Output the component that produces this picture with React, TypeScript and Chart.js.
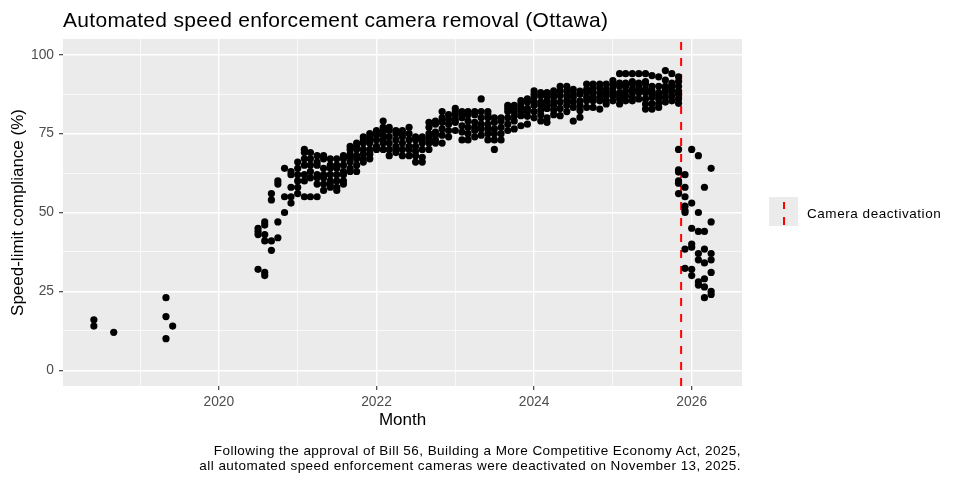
import { useEffect, useRef } from "react"
import Chart from "chart.js/auto"

// one entry per month (first day of month), several cameras each
const months = [
  "2018-06", "2018-09", "2019-05", "2019-06",
  "2020-07", "2020-08", "2020-09", "2020-10", "2020-11", "2020-12",
  "2021-01", "2021-02", "2021-03", "2021-04", "2021-05", "2021-06",
  "2021-07", "2021-08", "2021-09", "2021-10", "2021-11", "2021-12",
  "2022-01", "2022-02", "2022-03", "2022-04", "2022-05", "2022-06",
  "2022-07", "2022-08", "2022-09", "2022-10", "2022-11", "2022-12",
  "2023-01", "2023-02", "2023-03", "2023-04", "2023-05", "2023-06",
  "2023-07", "2023-08", "2023-09", "2023-10", "2023-11", "2023-12",
  "2024-01", "2024-02", "2024-03", "2024-04", "2024-05", "2024-06",
  "2024-07", "2024-08", "2024-09", "2024-10", "2024-11", "2024-12",
  "2025-01", "2025-02", "2025-03", "2025-04", "2025-05", "2025-06",
  "2025-07", "2025-08", "2025-09", "2025-10", "2025-11", "2025-12",
  "2026-01", "2026-02", "2026-03", "2026-04",
]

const compliance: number[][] = [
  [16, 14], [12], [23, 17, 10], [14],
  [45, 44, 43, 32], [47, 46, 43, 41, 31, 30], [56, 54, 41, 38], [60, 59, 47, 42], [64, 55, 50], [63, 62, 58, 55, 53],
  [66, 64, 62, 60, 58, 56], [70, 69, 67, 65, 62, 60, 55], [69, 67, 65, 63, 61, 55], [68, 66, 65, 62, 61, 59, 55],
  [68, 67, 64, 62, 61, 59, 57], [67, 65, 64, 62, 60, 59, 58],
  [67, 65, 64, 62, 60, 58, 57], [68, 67, 65, 63, 62, 60, 59], [71, 70, 68.5, 67.5, 66, 64, 63],
  [72, 71, 70, 68, 67, 65, 63], [74, 73, 72, 70, 68.5, 67, 66], [75, 74, 73, 72, 70, 68.5, 67],
  [76, 75, 74.5, 73, 71, 70], [79, 77, 76, 74.5, 73, 72, 70], [77, 76, 74, 72, 70, 68], [76, 75, 73, 71, 70, 69],
  [76, 75, 74, 72, 70, 68], [77, 75, 73, 71, 70, 68],
  [74, 73, 71, 69.5, 68, 66], [74, 73, 72, 70, 67.5, 66], [78.6, 77, 75, 73.5, 72, 70], [79, 78, 75.5, 74.5, 73, 72],
  [82, 80, 78.6, 76.5, 74.5, 72], [81, 79.5, 78, 76, 74],
  [83, 82, 81, 79.5, 78.6, 76], [82, 81, 80, 77.5, 75.5, 73], [82, 81, 79, 77, 75, 73], [82, 81, 78.6, 77, 76, 74],
  [86, 82, 80, 78, 76.5, 74.5], [82, 81, 80, 78, 76.5, 75, 73],
  [80, 78.6, 76.5, 75, 73, 70], [80, 79, 77, 75, 73], [84, 83, 82, 80, 78, 76], [84, 83, 82, 80.5, 79, 76.5],
  [85.5, 84.5, 83, 81.5, 80.7, 77.5], [86, 85, 83, 82, 80.5, 78],
  [88.6, 87.5, 86.5, 85, 84, 82, 80], [88, 87, 85, 84, 82.5, 81, 79], [88, 87, 85.5, 84, 83, 80, 78.6],
  [88.6, 87.5, 86.5, 85, 84, 82.5, 81], [90, 88.5, 87, 85, 83, 80.7], [90, 88.5, 87, 85.5, 84, 82],
  [89, 87.5, 86.5, 85, 83.3, 79], [88.5, 87.5, 85.4, 84, 82.3, 80.2], [90.7, 89, 88, 86.5, 85.4, 83.3],
  [90.7, 89.5, 88, 86.5, 85.4, 83.3], [90.7, 89.5, 88, 86.5, 85.4, 82.8], [90.7, 89, 88, 87, 85.5, 84.4],
  [91.8, 90.5, 89.5, 88, 87, 85.4], [94, 91, 90, 88, 87, 86, 84.4], [94, 91, 90, 88.5, 87, 85.4],
  [94, 91.5, 90.7, 89, 88, 86.5, 85.4], [94, 91, 90, 89, 88, 86], [94, 91.5, 90.7, 89, 88, 86, 84.4, 82.8],
  [93.4, 90, 88.6, 87.5, 86.5, 84.5, 82.8], [93, 90, 88, 87, 86, 84.5, 83.3], [95, 92, 90, 89, 88, 86.5, 85],
  [94, 91, 90, 88.6, 87, 85.4],
  [93, 91.5, 90, 88.5, 87.5, 86, 84.6, 70, 63.5, 62.8, 60, 59.3, 56], [62, 58, 55, 52, 50.6, 50, 38.4, 32.3],
  [70, 53, 45, 40, 39, 32, 30], [68, 50, 44, 37, 35, 28, 27], [58, 44, 38.4, 34, 29, 26.4, 23], [64, 47, 37, 35, 31, 25, 24],
]

const deactivationDate = "2025-11-13"

const xBreaks = [2019, 2020, 2021, 2022, 2023, 2024, 2025, 2026]
const xLabelled = [2020, 2022, 2024, 2026]
const yBreaks = [0, 12.5, 25, 37.5, 50, 62.5, 75, 87.5, 100]
const yLabelled = [0, 25, 50, 75, 100]
const yLimits = [0, 100]

const FONT = "'Liberation Sans', Arial, sans-serif"

function decimalYear(s: string) {
  const [y, m, d] = s.split("-").map(Number)
  const start = Date.UTC(y, 0, 1)
  const end = Date.UTC(y + 1, 0, 1)
  return y + (Date.UTC(y, m - 1, d || 1) - start) / (end - start)
}

const panelBg = {
  id: "panelBg",
  beforeDraw(chart: any) {
    const { ctx, chartArea: a } = chart
    ctx.save()
    ctx.fillStyle = "#EBEBEB"
    ctx.fillRect(a.left, a.top, a.right - a.left, a.bottom - a.top)
    ctx.restore()
  },
}

export default function App() {
  const canvasRef = useRef<HTMLCanvasElement | null>(null)

  useEffect(() => {
    if (!canvasRef.current) return

    const points = months.flatMap((m, i) =>
      compliance[i].map((v) => ({ x: decimalYear(m + "-01"), y: v }))
    )
    const xs = points.map((p) => p.x)
    const xLo = Math.min(...xs)
    const xHi = Math.max(...xs)
    const xPad = (xHi - xLo) * 0.05
    const yPad = (yLimits[1] - yLimits[0]) * 0.05
    const yMin = yLimits[0] - yPad
    const yMax = yLimits[1] + yPad
    const cut = decimalYear(deactivationDate)

    const gridWidth = (major: number[]) => (c: any) =>
      c.tick && major.includes(c.tick.value) ? 1.4 : 0.7
    const tickColor = (major: number[]) => (c: any) =>
      c.tick && major.includes(c.tick.value) ? "#333333" : "rgba(0,0,0,0)"

    const chart = new Chart(canvasRef.current, {
      type: "scatter",
      data: {
        datasets: [
          {
            data: points,
            backgroundColor: "#000000",
            borderWidth: 0,
            pointRadius: 3.6,
            pointHoverRadius: 3.6,
          },
          {
            data: [
              { x: cut, y: yMin },
              { x: cut, y: yMax },
            ],
            showLine: true,
            borderColor: "#FF0000",
            borderWidth: 2,
            borderDash: [8, 8],
            pointRadius: 0,
          } as any,
        ],
      },
      plugins: [panelBg],
      options: {
        animation: false,
        responsive: false,
        devicePixelRatio: 1,
        layout: { padding: { top: 39, right: 218, bottom: 49, left: 0 } },
        plugins: {
          legend: { display: false },
          tooltip: { enabled: false },
        },
        scales: {
          x: {
            type: "linear",
            min: xLo - xPad,
            max: xHi + xPad,
            afterBuildTicks: (s: any) => {
              s.ticks = xBreaks.map((v) => ({ value: v }))
            },
            afterFit: (s: any) => {
              s.height = 45
            },
            ticks: {
              autoSkip: false,
              maxRotation: 0,
              padding: 4,
              color: "#4D4D4D",
              font: { family: FONT, size: 13.8 },
              callback: (v: any) => (xLabelled.includes(v) ? String(v) : ""),
            },
            grid: {
              color: "#FFFFFF",
              lineWidth: gridWidth(xLabelled),
              tickLength: 4,
              tickColor: tickColor(xLabelled),
              tickWidth: 1.1,
            },
            border: { display: false },
            title: {
              display: true,
              text: "Month",
              color: "#000000",
              font: { family: FONT, size: 17 },
              padding: { top: 0, bottom: 0 },
            },
          },
          y: {
            type: "linear",
            min: yMin,
            max: yMax,
            afterBuildTicks: (s: any) => {
              s.ticks = yBreaks.map((v) => ({ value: v }))
            },
            afterFit: (s: any) => {
              s.width = 63
            },
            ticks: {
              autoSkip: false,
              padding: 5,
              color: "#4D4D4D",
              font: { family: FONT, size: 13.8 },
              callback: (v: any) => (yLabelled.includes(v) ? String(v) : ""),
            },
            grid: {
              color: "#FFFFFF",
              lineWidth: gridWidth(yLabelled),
              tickLength: 4,
              tickColor: tickColor(yLabelled),
              tickWidth: 1.1,
            },
            border: { display: false },
            title: {
              display: true,
              text: "Speed-limit compliance (%)",
              color: "#000000",
              font: { family: FONT, size: 17 },
              padding: { top: 8, bottom: 0 },
            },
          },
        },
      },
    })

    return () => {
      chart.destroy()
    }
  }, [])

  return (
    <>
      <style>{`body { margin: 0; }`}</style>
      <div style={{ position: "relative", width: 960, height: 480, background: "#fff", fontFamily: FONT }}>
        <canvas ref={canvasRef} width={960} height={480} style={{ display: "block" }} />
        <div
          style={{
            position: "absolute",
            left: 63,
            top: 9.5,
            fontSize: 21,
            lineHeight: "20px",
            letterSpacing: "0.3px",
            color: "#000",
            whiteSpace: "nowrap",
          }}
        >
          Automated speed enforcement camera removal (Ottawa)
        </div>
        <div
          style={{
            position: "absolute",
            left: 769,
            top: 197,
            width: 29,
            height: 29,
            background: "#EBEBEB",
          }}
        >
          <div
            style={{
              position: "absolute",
              left: 14,
              top: 5,
              width: 2,
              height: 24,
              background: "repeating-linear-gradient(to bottom, #FF0000 0px, #FF0000 7px, transparent 7px, transparent 15.5px)",
            }}
          />
        </div>
        <div
          style={{
            position: "absolute",
            left: 807,
            top: 206,
            fontSize: 13.5,
            lineHeight: "16px",
            letterSpacing: "0.55px",
            color: "#000",
            whiteSpace: "nowrap",
          }}
        >
          Camera deactivation
        </div>
        <div
          style={{
            position: "absolute",
            right: 219,
            top: 444,
            fontSize: 13.5,
            lineHeight: "14.5px",
            letterSpacing: "0.45px",
            color: "#000",
            textAlign: "right",
            whiteSpace: "nowrap",
          }}
        >
          Following the approval of Bill 56, Building a More Competitive Economy Act, 2025,
          <br />
          all automated speed enforcement cameras were deactivated on November 13, 2025.
        </div>
      </div>
    </>
  )
}
